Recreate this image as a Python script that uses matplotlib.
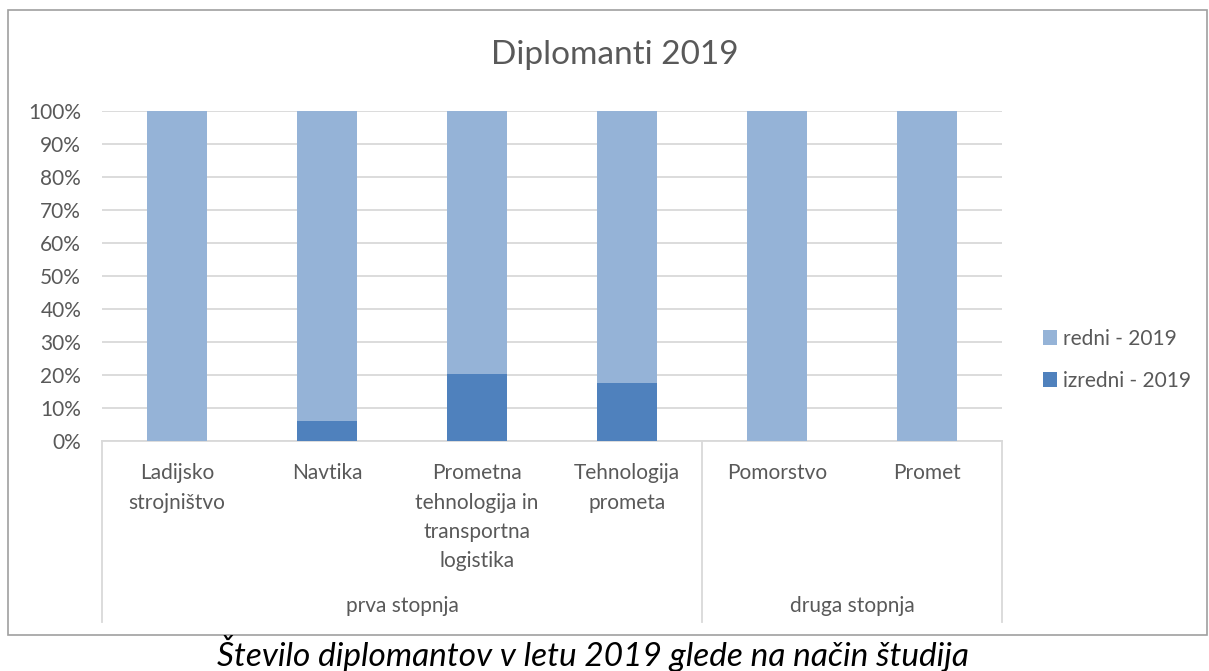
import matplotlib
matplotlib.use('Agg')
import matplotlib.pyplot as plt
from matplotlib.patches import Rectangle
from matplotlib.ticker import PercentFormatter

# data (percent of graduates)
categories = ['Ladijsko\nstrojništvo', 'Navtika',
              'Prometna\ntehnologija in\ntransportna\nlogistika',
              'Tehnologija\nprometa', 'Pomorstvo', 'Promet']
groups = ['prva stopnja', 'druga stopnja']
group_sizes = [4, 2]
izredni = [0.0, 6.1, 20.4, 17.7, 0.0, 0.0]
redni = [100 - v for v in izredni]

light = '#95B3D7'
dark = '#4F81BD'
txt = '#595959'
grid = '#D9D9D9'

plt.rcParams['font.family'] = ['Lato', 'DejaVu Sans']

fig = plt.figure(figsize=(12.09, 6.71), dpi=100)
W, H = 1209, 671

# outer chart border
fig.patches.append(Rectangle((8 / W, 1 - 635 / H), 1199 / W, 625 / H,
                             transform=fig.transFigure, fill=False,
                             edgecolor='#A0A0A0', linewidth=1.2))

ax = fig.add_axes([102 / W, 1 - 441 / H, 900 / W, 330 / H])
x = list(range(len(categories)))
ax.bar(x, izredni, width=0.4, color=dark, label='izredni - 2019', zorder=3)
ax.bar(x, redni, width=0.4, bottom=izredni, color=light, label='redni - 2019', zorder=3)

ax.set_xlim(-0.5, len(categories) - 0.5)
ax.set_ylim(0, 100)
ax.set_yticks(range(0, 101, 10))
ax.yaxis.set_major_formatter(PercentFormatter(decimals=0))
ax.yaxis.grid(True, color=grid, linewidth=1.3, zorder=0)
ax.set_xticks([])
for s in ['left', 'right', 'top']:
    ax.spines[s].set_visible(False)
ax.spines['bottom'].set_color(grid)
ax.spines['bottom'].set_linewidth(1.3)
ax.tick_params(axis='y', length=0, labelsize=15, labelcolor=txt, pad=15)

# category labels
for i, lab in enumerate(categories):
    ax.text(i, -0.068, lab, transform=ax.get_xaxis_transform(), ha='center', va='top',
            fontsize=15, color=txt, linespacing=1.58)

# group separators and labels
start = 0
bounds = [start]
for n in group_sizes:
    start += n
    bounds.append(start)
for b in bounds:
    ax.plot([b - 0.5, b - 0.5], [0, -0.548], transform=ax.get_xaxis_transform(),
            color=grid, linewidth=1.3, clip_on=False)
for g, a, b in zip(groups, bounds[:-1], bounds[1:]):
    ax.text((a + b - 1) / 2, -0.50, g, transform=ax.get_xaxis_transform(),
            ha='center', va='center', fontsize=15, color=txt)

fig.text(615 / W, 1 - 55 / H, 'Diplomanti 2019', ha='center', va='center',
         fontsize=24, color=txt)

handles, labels = ax.get_legend_handles_labels()
leg = fig.legend(handles[::-1], labels[::-1], loc='center left',
                 bbox_to_anchor=(1024 / W, 1 - 360 / H), frameon=False,
                 fontsize=15, labelcolor=txt, handlelength=0.7, handleheight=0.7,
                 handletextpad=0.25, labelspacing=1.05)

fig.text(593 / W, 1 - 654 / H, 'Število diplomantov v letu 2019 glede na način študija',
         ha='center', va='center', fontsize=24, style='italic', color='black')

fig.savefig('out.png', dpi=100)
